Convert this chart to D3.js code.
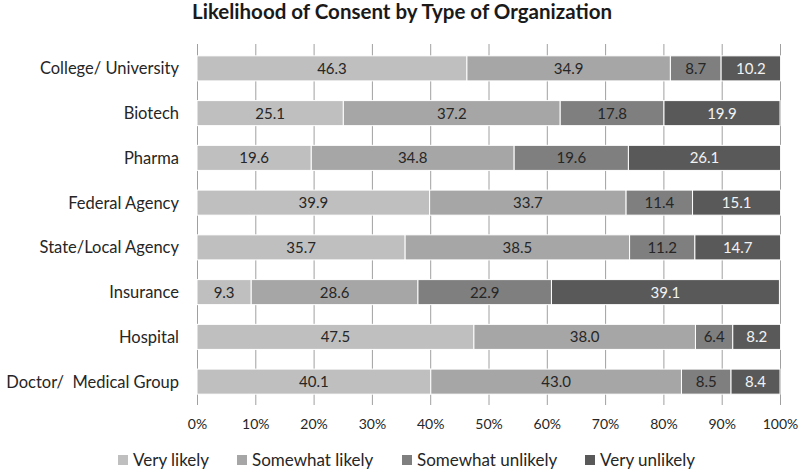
<!DOCTYPE html>
<html><head><meta charset="utf-8">
<script src="https://cdn.jsdelivr.net/npm/d3@7"></script>
<style>body{margin:0;background:#fff}svg{display:block}text{font-family:Lato,"Open Sans",sans-serif}</style>
</head><body>
<svg id="c" width="800" height="472"></svg>
<script>
const categories = ["College/ University","Biotech","Pharma","Federal Agency","State/Local Agency","Insurance","Hospital","Doctor/  Medical Group"];
const series = ["Very likely","Somewhat likely","Somewhat unlikely","Very unlikely"];
const veryLikely       = [46.3,25.1,19.6,39.9,35.7, 9.3,47.5,40.1];
const somewhatLikely   = [34.9,37.2,34.8,33.7,38.5,28.6,38.0,43.0];
const somewhatUnlikely = [ 8.7,17.8,19.6,11.4,11.2,22.9, 6.4, 8.5];
const veryUnlikely     = [10.2,19.9,26.1,15.1,14.7,39.1, 8.2, 8.4];
const tickValues = [0,10,20,30,40,50,60,70,80,90,100];
const colors = ["#bfbfbf","#a6a6a6","#7f7f7f","#595959"];
const labelColors = ["#262626","#262626","#262626","#f2f2f2"];

const svg = d3.select("#c");
const vals = [veryLikely, somewhatLikely, somewhatUnlikely, veryUnlikely];
const rows = categories.map((c,i)=>{ const o={cat:c}; series.forEach((s,j)=>o[s]=vals[j][i]); return o; });
const stack = d3.stack().keys(series)(rows);

const x = d3.scaleLinear().domain([0,100]).range([197,780]);
const y = d3.scaleBand().domain(categories).range([46,404]).paddingInner(0.44).paddingOuter(0.22);

// title
svg.append("text").attr("x",402).attr("y",19).attr("text-anchor","middle")
  .attr("font-size",20.5).attr("font-weight","bold").attr("fill","#1a1a1a")
  .text("Likelihood of Consent by Type of Organization");

// gridlines
svg.append("g").selectAll("line").data(tickValues).join("line")
  .attr("x1",d=>x(d)+0.5).attr("x2",d=>x(d)+0.5).attr("y1",44).attr("y2",405)
  .attr("stroke","#a0a0a0").attr("stroke-width",1);

// bars
const g = svg.append("g");
stack.forEach((layer,j)=>{
  g.append("g").selectAll("rect").data(layer).join("rect")
    .attr("x",d=>x(d[0])).attr("width",d=>x(d[1])-x(d[0]))
    .attr("y",(d,i)=>y(categories[i])).attr("height",y.bandwidth())
    .attr("fill",colors[j]).attr("stroke","#ffffff").attr("stroke-width",1);
  g.append("g").selectAll("text").data(layer).join("text")
    .attr("x",d=>(x(d[0])+x(d[1]))/2).attr("y",(d,i)=>y(categories[i])+y.bandwidth()/2)
    .attr("dy","0.36em").attr("text-anchor","middle").attr("font-size",15)
    .attr("fill",labelColors[j]).text(d=>(d[1]-d[0]).toFixed(1));
});

// y labels
svg.append("g").selectAll("text").data(categories).join("text")
  .attr("x",179).attr("y",d=>y(d)+y.bandwidth()/2).attr("dy","0.36em")
  .attr("text-anchor","end").attr("font-size",16.5).attr("fill","#262626")
  .attr("xml:space","preserve").style("white-space","pre").text(d=>d);

// x axis labels
const xAxis = d3.axisBottom(x).tickValues(tickValues).tickFormat(d=>d+"%").tickSize(0).tickPadding(0);
const ax = svg.append("g").attr("transform","translate(0,424)").call(xAxis);
ax.select(".domain").remove();
ax.selectAll("text").attr("font-size",14).attr("fill","#262626").attr("dy","0.36em")
  .style("font-family","Lato, 'Open Sans', sans-serif");

// legend
const legX = [118,237,402,585];
const leg = svg.append("g").selectAll("g").data(series).join("g")
  .attr("transform",(d,i)=>`translate(${legX[i]},460)`);
leg.append("rect").attr("x",0).attr("y",-5).attr("width",10).attr("height",10).attr("fill",(d,i)=>colors[i]);
leg.append("text").attr("x",15).attr("y",0).attr("dy","0.36em").attr("font-size",17).attr("fill","#262626").text(d=>d);
</script>
</body></html>
